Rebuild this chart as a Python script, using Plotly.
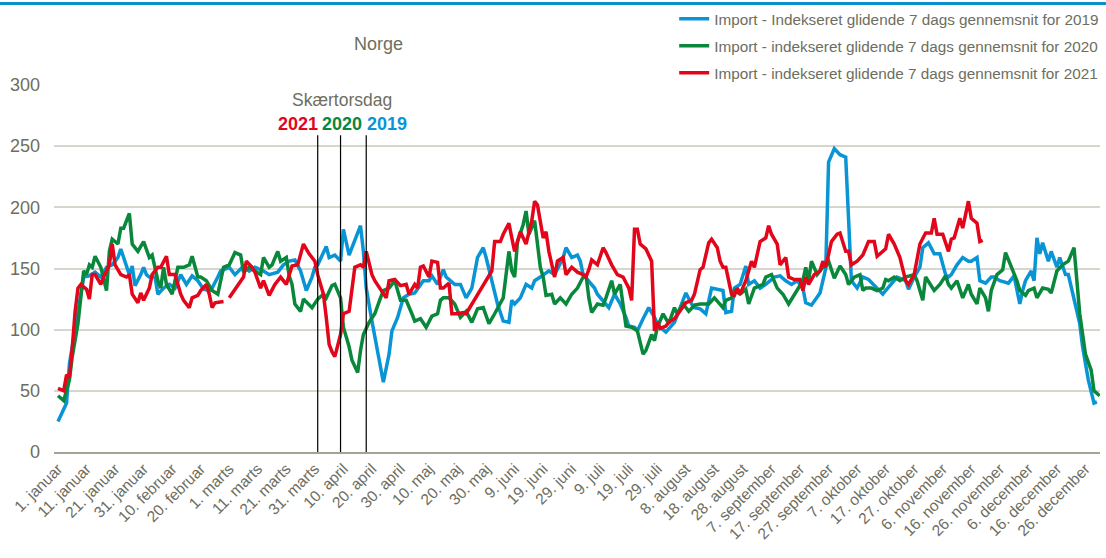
import plotly.graph_objects as go

# ---------------- data (day of year on a 366-day axis) ----------------
days_2019 = [1, 4, 5, 7, 9, 10, 12, 14, 16, 18, 20, 22, 23, 25, 26, 27, 28, 30, 31, 32, 33, 35, 36, 38, 40, 42, 44, 46, 48, 50, 52, 54, 55, 57, 58, 61, 63, 66, 68, 70, 73, 75, 78, 80, 82, 84, 86, 88, 90, 91, 92, 95, 96, 98, 100, 101, 103, 104, 107, 108, 109, 111, 113, 115, 117, 118, 120, 122, 124, 126, 129, 131, 132, 134, 136, 137, 140, 142, 144, 146, 148, 150, 151, 153, 155, 157, 159, 160, 161, 163, 165, 167, 168, 170, 173, 175, 178, 179, 181, 183, 184, 185, 187, 189, 190, 192, 194, 196, 198, 200, 201, 203, 204, 206, 208, 210, 211, 212, 214, 217, 219, 221, 223, 224, 226, 228, 230, 232, 234, 235, 237, 238, 240, 242, 243, 245, 247, 249, 252, 254, 256, 258, 260, 262, 263, 265, 267, 268, 270, 271, 273, 275, 277, 279, 281, 283, 285, 288, 290, 291, 293, 295, 298, 299, 301, 303, 304, 306, 308, 310, 312, 313, 314, 316, 318, 320, 321, 323, 324, 326, 328, 329, 331, 334, 336, 338, 339, 340, 342, 343, 344, 345, 346, 348, 349, 351, 352, 354, 355, 357, 359, 360, 362, 364, 365]
vals_2019 = [25, 40, 72, 102, 132, 143, 144, 147, 143, 151, 153, 159, 166, 153, 145, 152, 136, 145, 151, 145, 143, 143, 129, 134, 137, 134, 145, 137, 144, 140, 133, 132, 134, 143, 148, 151, 145, 152, 148, 151, 148, 145, 147, 153, 156, 157, 148, 132, 143, 151, 153, 168, 159, 161, 156, 182, 161, 167, 185, 164, 134, 107, 80, 57, 80, 99, 110, 126, 129, 130, 140, 140, 144, 137, 149, 143, 137, 137, 126, 134, 159, 167, 159, 140, 121, 107, 106, 124, 121, 126, 137, 134, 140, 143, 148, 145, 159, 167, 159, 161, 156, 145, 140, 134, 129, 124, 118, 129, 121, 110, 103, 102, 99, 109, 118, 110, 105, 102, 98, 106, 118, 130, 121, 118, 117, 113, 134, 133, 132, 114, 115, 134, 137, 152, 137, 140, 134, 137, 143, 144, 140, 137, 140, 134, 122, 120, 126, 130, 150, 237, 248, 243, 241, 140, 134, 143, 141, 134, 129, 132, 137, 143, 140, 133, 143, 151, 167, 171, 162, 162, 145, 143, 145, 153, 159, 156, 156, 159, 140, 138, 143, 143, 140, 138, 144, 121, 132, 140, 148, 140, 175, 162, 171, 156, 164, 151, 159, 145, 145, 124, 105, 86, 59, 40, 41]

days_2020 = [1, 3, 5, 6, 8, 10, 11, 12, 13, 14, 16, 17, 18, 19, 20, 22, 23, 24, 26, 27, 28, 29, 30, 31, 33, 34, 36, 37, 38, 39, 41, 43, 45, 47, 48, 50, 51, 53, 55, 57, 58, 59, 61, 63, 65, 66, 68, 70, 72, 73, 75, 76, 78, 79, 81, 82, 83, 84, 86, 87, 89, 90, 92, 94, 95, 97, 98, 100, 101, 103, 104, 106, 107, 108, 110, 112, 114, 115, 117, 119, 121, 123, 125, 126, 128, 130, 132, 134, 135, 136, 138, 140, 142, 144, 146, 148, 150, 152, 154, 156, 157, 159, 160, 161, 162, 164, 165, 166, 168, 170, 171, 172, 174, 175, 177, 179, 181, 183, 185, 186, 187, 188, 190, 192, 193, 195, 196, 198, 199, 200, 202, 204, 206, 207, 209, 210, 211, 213, 215, 217, 218, 220, 222, 224, 226, 229, 231, 234, 235, 237, 238, 240, 242, 243, 245, 248, 249, 251, 253, 255, 257, 259, 260, 262, 263, 264, 265, 267, 269, 271, 273, 275, 277, 278, 280, 282, 283, 284, 286, 288, 290, 291, 292, 294, 296, 298, 301, 302, 304, 305, 308, 310, 312, 313, 314, 316, 318, 320, 321, 323, 324, 326, 327, 328, 330, 332, 333, 335, 337, 338, 340, 341, 343, 344, 346, 348, 349, 351, 353, 355, 357, 358, 359, 361, 363, 364, 366]
vals_2020 = [46, 42, 59, 78, 105, 148, 145, 153, 151, 160, 151, 140, 132, 164, 174, 170, 183, 183, 195, 170, 167, 164, 168, 172, 159, 161, 140, 134, 151, 137, 129, 151, 151, 153, 160, 143, 143, 140, 132, 129, 140, 151, 153, 163, 161, 147, 151, 148, 145, 159, 151, 153, 164, 156, 159, 144, 137, 121, 115, 125, 120, 118, 125, 129, 126, 136, 137, 126, 102, 86, 75, 65, 83, 96, 106, 113, 126, 132, 134, 140, 124, 124, 113, 107, 109, 102, 111, 113, 124, 126, 126, 121, 110, 115, 106, 117, 118, 105, 113, 121, 126, 164, 148, 143, 172, 186, 197, 178, 189, 151, 143, 128, 129, 121, 126, 121, 129, 134, 143, 145, 126, 114, 121, 120, 126, 140, 129, 137, 118, 103, 102, 99, 80, 83, 96, 91, 102, 113, 105, 118, 113, 121, 115, 120, 121, 121, 126, 118, 124, 126, 132, 129, 133, 121, 134, 137, 143, 145, 134, 129, 121, 129, 132, 140, 151, 140, 156, 145, 151, 156, 142, 152, 145, 137, 143, 145, 132, 134, 134, 132, 134, 141, 140, 143, 140, 143, 145, 140, 124, 143, 132, 137, 144, 137, 134, 140, 126, 137, 129, 121, 134, 126, 115, 132, 145, 149, 163, 151, 140, 132, 128, 132, 134, 126, 134, 133, 130, 148, 153, 156, 167, 140, 113, 80, 67, 50, 46]

days_2021 = [1, 3, 4, 5, 6, 7, 8, 9, 11, 12, 13, 14, 16, 17, 19, 20, 21, 23, 25, 26, 27, 29, 30, 31, 33, 34, 36, 37, 39, 40, 42, 44, 45, 47, 48, 50, 51, 53, 54, 55, 56, 59, 60, 61, 63, 64, 66, 67, 69, 70, 72, 73, 75, 77, 79, 81, 83, 85, 87, 89, 91, 92, 94, 95, 96, 97, 98, 100, 101, 103, 104, 105, 107, 108, 109, 111, 112, 114, 116, 117, 119, 121, 123, 124, 126, 127, 128, 129, 131, 132, 134, 135, 136, 138, 139, 141, 143, 144, 146, 148, 150, 151, 153, 154, 156, 157, 159, 160, 161, 163, 165, 167, 168, 169, 171, 172, 173, 175, 176, 178, 179, 181, 183, 185, 186, 187, 188, 190, 192, 193, 195, 197, 199, 201, 202, 203, 204, 205, 207, 209, 210, 211, 212, 214, 215, 217, 219, 221, 223, 224, 226, 227, 229, 230, 232, 233, 234, 235, 237, 238, 239, 240, 242, 244, 245, 247, 249, 250, 251, 253, 254, 256, 257, 259, 261, 262, 263, 264, 266, 268, 269, 270, 272, 274, 275, 277, 278, 279, 281, 283, 285, 287, 288, 290, 291, 292, 294, 296, 298, 299, 301, 303, 305, 307, 308, 309, 311, 313, 314, 315, 317, 318, 320, 321, 323, 324, 325]
vals_2021 = [52, 50, 63, 61, 85, 115, 134, 137, 133, 125, 145, 145, 137, 143, 153, 170, 153, 145, 143, 145, 129, 122, 130, 124, 134, 145, 151, 151, 160, 145, 145, 129, 124, 118, 126, 128, 132, 137, 129, 118, 122, 123, None, 126, 133, 136, 143, 156, 151, 147, 134, 140, 128, 137, 143, 137, 152, 153, 170, 162, 156, 145, 129, 110, 88, 82, 78, 96, 113, 115, 134, 151, 153, 151, 164, 145, 140, 133, 126, 140, 141, 136, 137, 129, 137, 134, 151, 152, 143, 156, 155, 134, 134, 138, 113, 113, 114, 113, 121, 129, 137, 140, 148, 172, 172, 178, 187, 175, 164, 180, 170, 189, 205, 202, 175, 180, 164, 143, 156, 159, 145, 151, 147, 145, 143, 149, 157, 153, 167, 163, 153, 145, 143, 134, 124, 182, 182, 170, 166, 156, 99, 106, 101, 103, 106, 109, 115, 122, 124, 129, 149, 151, 171, 174, 167, 156, 151, 151, 129, 128, 134, 129, 140, 156, 151, 172, 175, 185, 178, 170, 153, 159, 143, 141, 141, 132, 143, 137, 145, 148, 156, 151, 172, 178, 179, 164, 164, 153, 156, 161, 172, 172, 160, 164, 166, 178, 170, 159, 140, 137, 145, 170, 179, 179, 191, 178, 178, 164, 174, 175, 191, 183, 205, 191, 187, 172, 173]

series_names = [
    "Import - Indekseret glidende 7 dags gennemsnit for 2019",
    "Import - indekseret glidende 7 dags gennemsnit for 2020",
    "Import - indekseret glidende 7 dags gennemsnit for 2021",
]
series_colors = ["#0995d5", "#09873b", "#e3061a"]

tick_days = [1, 11, 21, 31, 41, 51, 61, 71, 81, 91, 101, 111, 121, 131, 141, 151, 161, 171, 181,
             191, 201, 211, 221, 231, 241, 251, 261, 271, 281, 291, 301, 311, 321, 331, 341, 351, 361]
tick_labels = ["1. januar", "11. januar", "21. januar", "31. januar", "10. februar", "20. februar",
               "1. marts", "11. marts", "21. marts", "31. marts", "10. april", "20. april", "30. april",
               "10. maj", "20. maj", "30. maj", "9. juni", "19. juni", "29. juni", "9. juli", "19. juli",
               "29. juli", "8. august", "18. august", "28. august", "7. september", "17. september",
               "27. september", "7. oktober", "17. oktober", "27. oktober", "6. november", "16. november",
               "26. november", "6. december", "16. december", "26. december"]

# Skærtorsdag (Maundy Thursday) day positions: 2021, 2020, 2019
skaertorsdag_years = ["2021", "2020", "2019"]
skaertorsdag_days = [92, 100, 109]
skaertorsdag_colors = ["#e3061a", "#09873b", "#0995d5"]

# ---------------- figure ----------------
FONT = "Liberation Sans, Arial, sans-serif"
GRAY = "#6e6e60"

fig = go.Figure()
for i, (name, d, v, c) in enumerate(zip(series_names, [days_2019, days_2020, days_2021],
                                        [vals_2019, vals_2020, vals_2021], series_colors)):
    fig.add_trace(go.Scatter(x=d, y=v, mode="lines", name=name, connectgaps=False,
                             legendgroup="g%d" % i,
                             line=dict(color=c, width=3.5), hoverinfo="x+y"))

# vertical Skærtorsdag lines
for d in skaertorsdag_days:
    fig.add_shape(type="line", xref="x", yref="y", x0=d, x1=d, y0=0, y1=259,
                  line=dict(color="black", width=1.2))

# labels above the lines
label_x = [85.1, 100.5, 116.2]
for yr, c, lx in zip(skaertorsdag_years, skaertorsdag_colors, label_x):
    fig.add_annotation(x=lx, y=268.5, xref="x", yref="y", text="<b>%s</b>" % yr, showarrow=False,
                       font=dict(family=FONT, size=18, color=c), xanchor="center", yanchor="middle")
fig.add_annotation(x=100.5, y=287.5, xref="x", yref="y", text="Skærtorsdag", showarrow=False,
                   font=dict(family=FONT, size=17.5, color=GRAY), xanchor="center", yanchor="middle")

# title
fig.add_annotation(x=0.3105, y=1.113, xref="paper", yref="paper", text="Norge", showarrow=False,
                   font=dict(family=FONT, size=18, color=GRAY), xanchor="center", yanchor="middle")

# blue rule at the very top
fig.add_shape(type="line", xref="paper", yref="paper", x0=-0.06, x1=1.01, y0=1.222, y1=1.222,
              line=dict(color="#0a8fd0", width=3))

fig.update_layout(
    width=1106, height=558,
    margin=dict(l=54, r=2, t=83, b=106),
    plot_bgcolor="white", paper_bgcolor="white",
    showlegend=True,
    legend=dict(x=1.004, xanchor="right", y=1.225, yanchor="top",
                font=dict(family=FONT, size=15.3, color=GRAY),
                bgcolor="rgba(0,0,0,0)", tracegroupgap=4, itemwidth=30),
    xaxis=dict(range=[-0.4, 366.1], tickmode="array", tickvals=tick_days, ticktext=tick_labels,
               tickangle=-45, tickfont=dict(family=FONT, size=15.5, color=GRAY),
               showgrid=False, zeroline=False, showline=True, linecolor="#a4a494", linewidth=1.5,
               ticks=""),
    yaxis=dict(range=[0, 300], tickmode="array", tickvals=[0, 50, 100, 150, 200, 250, 300],
               tickfont=dict(family=FONT, size=18, color=GRAY),
               showgrid=True, gridcolor="#d6d6cd", gridwidth=1.5, zeroline=False,
               showline=False, ticks="", ticklabelstandoff=13),
)

fig.write_html("out.html", config={"displayModeBar": False},
               post_script="document.body.style.margin='0';document.body.style.overflow='hidden';")
